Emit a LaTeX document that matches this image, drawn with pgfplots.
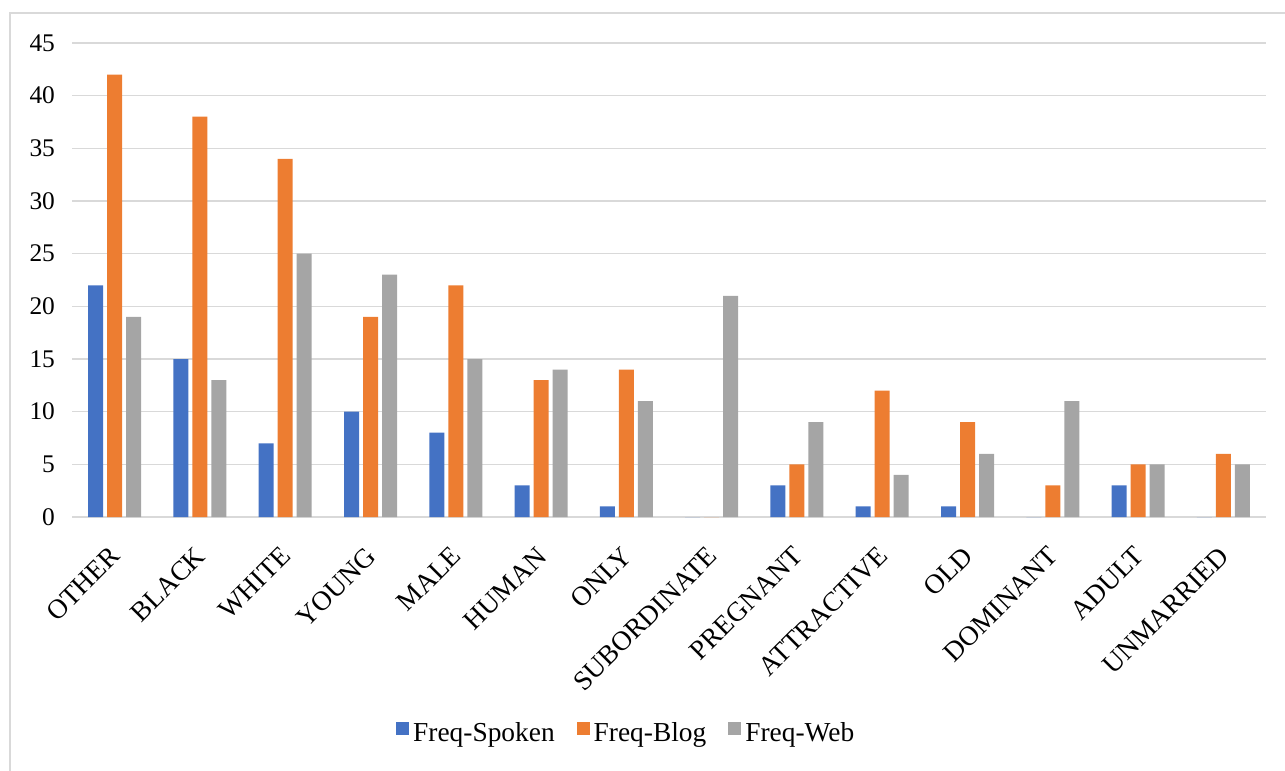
\documentclass[border=0pt]{standalone}
\usepackage{pgfplots}
\pgfplotsset{compat=1.18}
\usepackage{fontspec}
\setmainfont{Liberation Serif}
\definecolor{cblue}{HTML}{4472C4}
\definecolor{corange}{HTML}{ED7D31}
\definecolor{cgray}{HTML}{A5A5A5}
\definecolor{cgrid}{HTML}{D9D9D9}
\begin{document}
\begin{tikzpicture}
\useasboundingbox (-36pt,-127pt) rectangle (606.5pt,258.5pt);
\draw[cgrid, line width=1pt] (-31pt,-130pt) -- (-31pt,252pt) -- (620pt,252pt);
\begin{axis}[
  at={(0pt,0pt)}, anchor=south west,
  scale only axis, width=597pt, height=237pt,
  ybar=2pt, bar width=7.5pt,
  xmin=-0.5, xmax=13.5, ymin=0, ymax=45,
  ytick={0,5,...,45},
  xtick={0,...,13},
  xticklabels={OTHER,BLACK,WHITE,YOUNG,MALE,HUMAN,ONLY,SUBORDINATE,PREGNANT,ATTRACTIVE,OLD,DOMINANT,ADULT,UNMARRIED},
  x tick label style={rotate=45, anchor=north east, font=\fontsize{13.7}{16}\selectfont, yshift=-4.4pt, xshift=-8.5pt},
  y tick label style={font=\fontsize{12.7}{15}\selectfont},
  /pgf/number format/assume math mode=true,
  major tick length=0pt,
  ymajorgrids, grid style={cgrid, line width=0.75pt},
  axis x line*=bottom, axis y line*=left,
  x axis line style={cgrid, line width=0.75pt, -},
  y axis line style={draw=none},
  yticklabel style={xshift=-5pt},
  enlarge x limits=false,
  legend style={draw=none, at={(0.465,-0.456)}, anchor=center, legend columns=-1,
    font=\fontsize{13.7}{16}\selectfont, /tikz/every even column/.append style={column sep=9pt}},
  legend image code/.code={\fill[#1] (0pt,-1pt) rectangle (6.5pt,5.5pt);},
]
\addplot[fill=cblue, draw=none] coordinates {(0,22) (1,15) (2,7) (3,10) (4,8) (5,3) (6,1) (7,0) (8,3) (9,1) (10,1) (11,0) (12,3) (13,0)};
\addplot[fill=corange, draw=none] coordinates {(0,42) (1,38) (2,34) (3,19) (4,22) (5,13) (6,14) (7,0) (8,5) (9,12) (10,9) (11,3) (12,5) (13,6)};
\addplot[fill=cgray, draw=none] coordinates {(0,19) (1,13) (2,25) (3,23) (4,15) (5,14) (6,11) (7,21) (8,9) (9,4) (10,6) (11,11) (12,5) (13,5)};
\legend{Freq-Spoken,Freq-Blog,Freq-Web}
\end{axis}
\end{tikzpicture}
\end{document}
